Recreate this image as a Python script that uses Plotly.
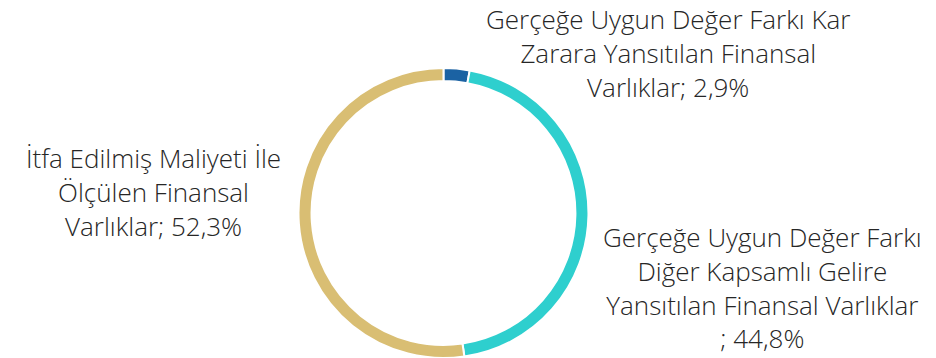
import plotly.graph_objects as go

# Portfolio breakdown of financial assets (share of total, %)
categories = [
    "Gerçeğe Uygun Değer Farkı Kar Zarara Yansıtılan Finansal Varlıklar",
    "Gerçeğe Uygun Değer Farkı Diğer Kapsamlı Gelire Yansıtılan Finansal Varlıklar",
    "İtfa Edilmiş Maliyeti İle Ölçülen Finansal Varlıklar",
]
shares = [2.9, 44.8, 52.3]
colors = ["#1b62a3", "#2ecfce", "#d9be73"]

# Category names broken into the lines shown in the outside labels
name_lines = [
    ["Gerçeğe Uygun Değer Farkı Kar", "Zarara Yansıtılan Finansal", "Varlıklar"],
    ["Gerçeğe Uygun Değer Farkı", "Diğer Kapsamlı Gelire", "Yansıtılan Finansal Varlıklar", ""],
    ["İtfa Edilmiş Maliyeti İle", "Ölçülen Finansal", "Varlıklar"],
]

W, H = 936, 358
# label block centres in pixels from the top-left corner
label_centres = [(668, 53), (762, 287), (153, 192)]

def fmt_pct(v):
    return f"{v:.1f}".replace(".", ",") + "%"

fig = go.Figure(
    go.Pie(
        labels=categories,
        values=shares,
        hole=0.91,
        sort=False,
        direction="clockwise",
        rotation=0,
        marker=dict(colors=colors, line=dict(color="white", width=2)),
        textinfo="none",
        hoverinfo="label+percent",
        showlegend=False,
        domain=dict(x=[0.0, 0.9476], y=[0.0, 0.81]),
    )
)

for lines, v, (cx, cy) in zip(name_lines, shares, label_centres):
    lines = list(lines)
    lines[-1] = f"{lines[-1]}; {fmt_pct(v)}"
    fig.add_annotation(
        x=cx / W, y=1 - cy / H, xref="paper", yref="paper",
        text="<br>".join(lines), showarrow=False,
        xanchor="center", yanchor="middle", align="center",
        font=dict(family="Open Sans", size=26, color="#262626", weight=300),
    )

fig.update_layout(
    width=W, height=H,
    margin=dict(l=0, r=0, t=0, b=0),
    paper_bgcolor="white", plot_bgcolor="white",
)

fig.write_html("out.html")
